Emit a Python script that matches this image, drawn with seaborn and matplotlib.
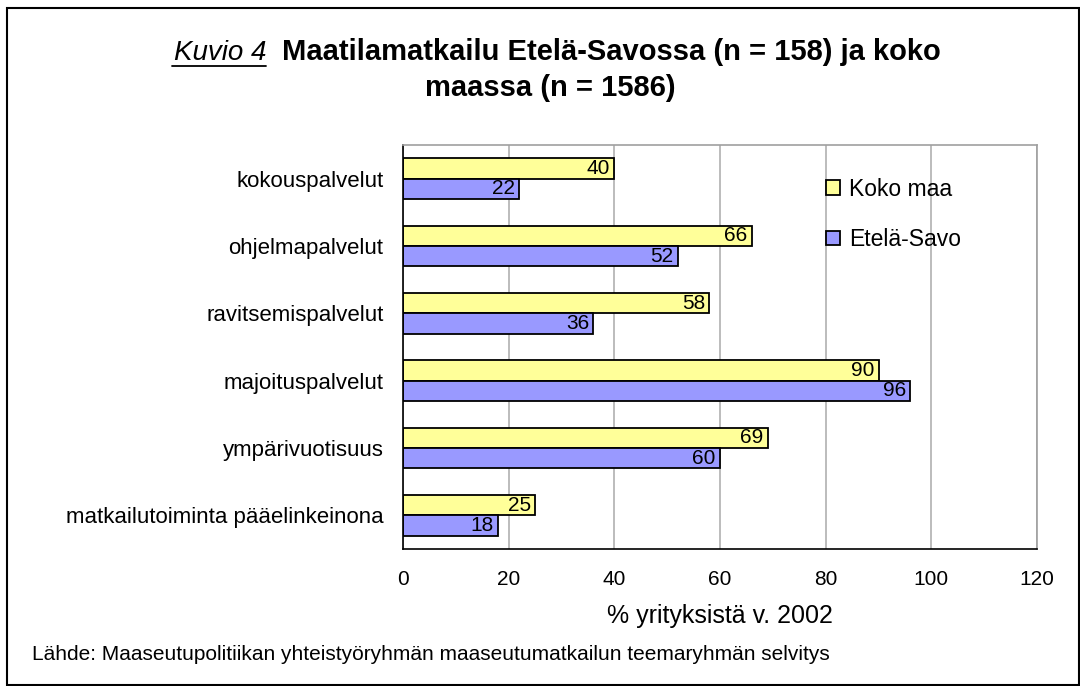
import pandas as pd
import seaborn as sns
import matplotlib.pyplot as plt
from matplotlib.lines import Line2D
from matplotlib.patches import Rectangle
from matplotlib.ticker import FixedLocator

categories = ['kokouspalvelut', 'ohjelmapalvelut', 'ravitsemispalvelut',
              'majoituspalvelut', 'ympärivuotisuus',
              'matkailutoiminta pääelinkeinona']
koko_maa = [40, 66, 58, 90, 69, 25]
etela_savo = [22, 52, 36, 96, 60, 18]
series_names = ['Koko maa', 'Etelä-Savo']
colors = ['#FFFF99', '#9999FF']
x_ticks = [0, 20, 40, 60, 80, 100, 120]

df = pd.DataFrame({
    'kategoria': categories * 2,
    'arvo': koko_maa + etela_savo,
    'sarja': [series_names[0]] * len(categories) + [series_names[1]] * len(categories),
})

sns.set_style('white')
plt.rcParams['font.family'] = ['Liberation Sans', 'DejaVu Sans']
plt.rcParams['text.color'] = 'black'
plt.rcParams['axes.labelcolor'] = 'black'
plt.rcParams['xtick.color'] = 'black'
plt.rcParams['ytick.color'] = 'black'

W, H = 1080, 686
fig = plt.figure(figsize=(W / 100, H / 100), dpi=100)
ax = fig.add_axes([403 / W, 1 - 549 / H, (1037 - 403) / W, (549 - 145) / H])

sns.barplot(data=df, x='arvo', y='kategoria', hue='sarja', orient='h',
            palette=colors, edgecolor='black', linewidth=1.3, width=0.6,
            saturation=1, ax=ax)

for cont in ax.containers:
    labels = ax.bar_label(cont, fmt='%d', padding=-3, fontsize=15, color='black')
    for t in labels:
        t.set_ha('right')

ax.set_xlim(0, 120)
ax.set_xticks(x_ticks)
ax.set_xticklabels([str(v) for v in x_ticks], fontsize=15)
ax.grid(axis='x', color='#b0b0b0', linewidth=1.2)
ax.set_axisbelow(True)
ax.tick_params(axis='x', direction='out', length=5, width=1, color='#404040', pad=10)

ax.tick_params(axis='y', which='major', length=0, pad=14, labelsize=16)
ax.yaxis.set_minor_locator(FixedLocator([i - 0.5 for i in range(len(categories) + 1)]))
ax.tick_params(axis='y', which='minor', direction='out', length=6, width=1, color='black')

for s in ['left', 'bottom']:
    ax.spines[s].set_color('black')
    ax.spines[s].set_linewidth(1.2)
for s in ['top', 'right']:
    ax.spines[s].set_color('#a0a0a0')
    ax.spines[s].set_linewidth(1.2)

ax.set_ylabel('')
ax.set_xlabel('% yrityksistä v. 2002', fontsize=18, labelpad=11)

handles = [Rectangle((0, 0), 1, 1, facecolor=c, edgecolor='black', linewidth=1.3) for c in colors]
ax.legend(handles, series_names, loc='upper left', bbox_to_anchor=(0.635, 0.97),
          frameon=False, fontsize=16.5, handlelength=0.6, handleheight=0.6,
          handletextpad=0.4, labelspacing=1.2)

# title
fig.text(266 / W, 1 - 60 / H, 'Kuvio 4', fontsize=20, style='italic',
         ha='right', va='baseline')
fig.text(282 / W, 1 - 60 / H, 'Maatilamatkailu Etelä-Savossa (n = 158) ja koko',
         fontsize=21, fontweight='bold', ha='left', va='baseline')
fig.text(550 / W, 1 - 96 / H, 'maassa (n = 1586)', fontsize=21,
         fontweight='bold', ha='center', va='baseline')
fig.add_artist(Line2D([172 / W, 266 / W], [1 - 66 / H, 1 - 66 / H],
                      transform=fig.transFigure, color='black', linewidth=1.3))

fig.text(32 / W, 1 - 655 / H,
         'Lähde: Maaseutupolitiikan yhteistyöryhmän maaseutumatkailun teemaryhmän selvitys',
         fontsize=15, ha='left', va='center')

fig.add_artist(Rectangle((7 / W, 1 / H), 1 - 8 / W, 1 - 9 / H,
                         transform=fig.transFigure, fill=False,
                         edgecolor='black', linewidth=1.5))

fig.savefig('out.png', dpi=100)
